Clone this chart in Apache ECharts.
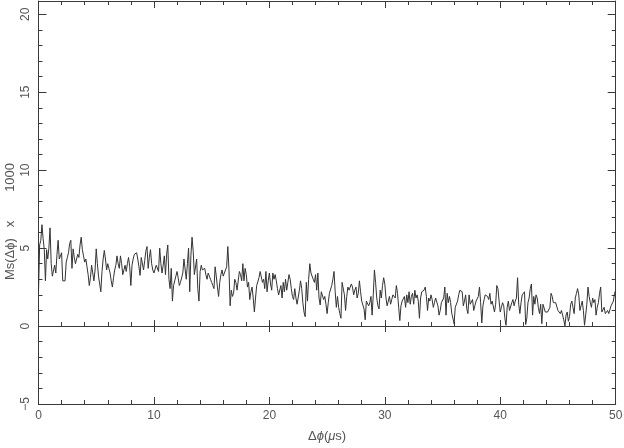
<!DOCTYPE html>
<html><head><meta charset="utf-8">
<script src="https://cdn.jsdelivr.net/npm/echarts@6/dist/echarts.min.js"></script>
<style>html,body{margin:0;padding:0;background:#fff}#c{width:624px;height:448px}</style>
</head><body><div id="c"></div><script>
// x step of the sampled curve (Δϕ in μs)
const xStep = 0.1;
// Ms(Δϕ) x 1000, in consecutive x ranges
const ms_0_79 = [2.2,5.2,5.5,6.5,5.6,4.9,2.9,4.9,4.3,5.0,
6.3,4.0,3.2,3.3,3.9,3.4,4.6,5.5,4.3,4.5,
4.7,2.9,2.8,2.9,4.1,4.4,4.7,5.3,5.5,3.7,
4.95,4.4,4.0,3.9,4.6,4.4,5.2,5.7,4.9,4.5,
4.1,4.3,3.8,3.3,2.6,3.1,3.9,3.4,2.9,3.6,
4.95,4.0,3.2,2.7,2.2,3.5,4.3,4.85,4.3,3.6,
4.0,3.7,3.4,2.9,2.5,3.1,3.6,3.9,4.5,4.0,
3.7,4.5,4.0,3.3,3.6,3.9,3.5,4.0,4.4,3.8];
const ms_8_161 = [2.6,3.9,4.3,4.6,4.5,4.7,4.3,3.8,3.25,4.4,
4.5,3.6,4.2,4.8,5.1,3.7,4.4,4.9,4.0,3.6,
3.4,3.3,3.9,3.8,3.5,5.0,4.0,3.4,3.9,4.5,
3.3,4.6,5.2,3.0,2.4,3.7,1.6,2.6,2.9,3.2,
3.5,3.1,2.6,2.8,2.7,3.4,4.3,4.4,3.0,4.0,
5.0,2.2,4.5,5.7,4.8,3.3,3.2,4.3,2.4,1.6,
3.5,3.9,3.6,3.6,3.7,3.3,3.0,3.4,3.2,3.0,
2.8,2.6,2.4,3.8,3.2,2.5,1.9,2.8,3.3,3.6,
3.2,3.4];
const ms_162_243 = [3.6,3.8,5.1,3.6,1.3,2.3,1.9,2.1,
3.0,2.8,2.3,2.2,3.5,3.3,2.9,4.0,2.9,3.7,
3.3,2.5,2.8,1.7,2.2,2.5,1.8,0.9,1.8,2.6,
2.7,3.1,3.5,3.4,2.8,3.0,2.4,3.5,2.2,2.9,
3.4,2.7,2.3,3.4,3.0,3.3,2.9,2.4,2.0,1.9,
2.6,1.8,2.8,2.2,3.0,2.3,2.2,3.3,3.0,2.4,
1.9,1.7,2.4,1.8,1.4,1.5,2.3,2.9,2.4,1.5,
0.9,0.6,2.8,1.6,3.0,4.0,3.4,3.5,3.0,2.8,
3.3,2.3,3.4,1.8];
const ms_244_326 = [1.35,2.2,2.3,1.7,1.9,1.4,
0.8,1.5,2.1,2.0,2.6,3.0,3.5,2.2,1.2,1.9,
1.2,0.8,0.5,2.8,2.9,2.0,1.0,1.9,2.5,2.3,
2.4,2.7,2.5,2.0,2.3,2.5,1.8,2.1,2.9,2.2,
1.6,1.6,1.1,0.4,1.6,1.6,1.3,1.5,1.9,0.7,
2.0,3.6,2.8,1.8,1.3,1.1,2.3,1.8,2.6,3.1,
2.7,1.8,1.3,1.6,1.9,1.4,1.7,2.0,2.1,1.8,
2.6,2.1,1.2,0.35,1.3,1.6,1.7,1.9,1.2,2.0,
1.5,2.2,1.4,1.9,2.1,1.4,2.3];
const ms_327_408 = [1.8,2.0,1.6,
0.5,1.8,2.2,2.1,2.3,2.5,1.9,1.0,1.8,1.6,
2.0,1.7,1.2,1.5,1.8,1.7,1.3,0.7,1.0,1.5,
1.4,1.8,2.5,0.7,2.1,1.5,1.9,1.5,0.8,0.5,
0.15,1.2,1.3,1.6,2.0,2.3,2.4,2.2,1.3,1.6,
2.0,1.1,0.8,2.0,1.4,1.5,1.7,1.0,1.3,1.6,
1.6,1.9,2.5,1.5,0.2,1.3,1.7,2.0,2.1,1.9,
1.7,2.1,1.4,1.6,1.7,0.9,1.4,2.6,2.4,1.6,
0.9,1.2,1.5,1.3,0.5,0.05,1.2,1.6,1.0];
const ms_409_500 = [1.1,
1.5,1.7,1.3,1.6,1.8,3.1,1.4,0.8,1.5,2.0,
2.1,2.2,0.1,0.5,1.5,1.8,2.4,2.7,0.7,1.9,
1.4,2.0,1.8,1.2,0.8,1.4,0.15,1.4,1.3,0.9,
0.8,0.9,1.0,1.2,2.1,1.9,1.5,1.5,1.5,1.4,
1.0,1.1,0.8,1.0,0.7,0.4,0.0,0.7,0.9,0.3,
0.6,1.4,1.6,1.2,0.8,1.8,2.1,2.4,2.0,1.0,
1.3,1.6,1.0,0.05,0.7,1.4,2.5,1.9,1.5,1.2,
1.8,1.5,1.7,0.7,1.2,1.5,2.1,2.5,0.9,0.8,
1.2,0.8,0.9,1.0,0.8,0.9,1.3,1.4,1.6,2.1,
2.3];
// axis ranges
const xRange = [0, 50];
const yRange = [-5, 20.85];

const msAll = [].concat(ms_0_79, ms_8_161, ms_162_243, ms_244_326, ms_327_408, ms_409_500);
const lineData = msAll.map((v, i) => [Math.round(i * xStep * 10) / 10, v]);

const ink = '#3a3a3a';
const txt = '#555';
const font = 'Liberation Sans';

function xAx(opt) {
  return Object.assign({
    type: 'value', min: xRange[0], max: xRange[1], splitLine: {show: false},
    axisLabel: {show: false}, axisLine: {show: false, onZero: false, lineStyle: {color: ink, width: 1}},
    axisTick: {show: true, inside: true, length: 4, lineStyle: {color: ink, width: 1}}
  }, opt);
}
function yAx(opt) {
  return Object.assign({
    type: 'value', min: yRange[0], max: yRange[1], splitLine: {show: false},
    axisLabel: {show: false}, axisLine: {show: false, onZero: false, lineStyle: {color: ink, width: 1}},
    axisTick: {show: true, inside: true, length: 4, lineStyle: {color: ink, width: 1}}
  }, opt);
}

const chart = echarts.init(document.getElementById('c'), null, {renderer: 'canvas'});
chart.setOption({
  animation: false,
  backgroundColor: '#fff',
  grid: {left: 38.5, right: 8.3, top: 1, bottom: 44, containLabel: false, outerBoundsMode: 'none'},
  xAxis: [
    xAx({position: 'bottom', interval: 10,
      axisLine: {show: true, onZero: false, lineStyle: {color: ink, width: 1}},
      axisTick: {show: true, inside: true, length: 7, lineStyle: {color: ink}},
      axisLabel: {show: true, margin: 6, color: txt, fontFamily: font, fontSize: 12},
      name: 'Δ{i|ϕ}({i|μ}s)', nameLocation: 'middle', nameGap: 26, nameMoveOverlap: false,
      nameTextStyle: {color: txt, fontFamily: font, fontSize: 13,
        rich: {i: {fontStyle: 'italic', color: txt, fontFamily: font, fontSize: 13}}}
    }),
    xAx({position: 'bottom', interval: 2}),
    xAx({position: 'top', interval: 10,
      axisLine: {show: true, onZero: false, lineStyle: {color: ink, width: 1}},
      axisTick: {show: true, inside: true, length: 7, lineStyle: {color: ink}}}),
    xAx({position: 'top', interval: 2}),
    xAx({position: 'bottom', interval: 2,
      axisLine: {show: true, onZero: true, onZeroAxisIndex: 0, lineStyle: {color: ink, width: 1}}}),
    xAx({position: 'bottom', interval: 10,
      axisLine: {show: false, onZero: true, onZeroAxisIndex: 0},
      axisTick: {show: true, inside: true, length: 6, lineStyle: {color: ink}}}),
    xAx({position: 'bottom', interval: 10,
      axisLine: {show: false, onZero: true, onZeroAxisIndex: 0},
      axisTick: {show: true, inside: false, length: 6, lineStyle: {color: ink}}})
  ],
  yAxis: [
    yAx({position: 'left', interval: 5,
      axisLine: {show: true, onZero: false, lineStyle: {color: ink, width: 1}},
      axisTick: {show: true, inside: true, length: 8, lineStyle: {color: ink}},
      axisLabel: {show: true, rotate: 90, margin: 7, color: txt, fontFamily: font, fontSize: 12,
        showMaxLabel: false,
        formatter: v => v < 0 ? '\u2212' + (-v) : String(v)},
      name: 'Ms(Δϕ)   x        1000', nameLocation: 'middle', nameGap: 22, nameRotate: 90,
      nameMoveOverlap: false,
      nameTextStyle: {color: txt, fontFamily: font, fontSize: 13, padding: [0, 38, 0, 0]}
    }),
    yAx({position: 'left', interval: 1}),
    yAx({position: 'right', interval: 5,
      axisLine: {show: true, onZero: false, lineStyle: {color: ink, width: 1}},
      axisTick: {show: true, inside: true, length: 8, lineStyle: {color: ink}}}),
    yAx({position: 'right', interval: 1})
  ],
  series: [{
    type: 'line', xAxisIndex: 0, yAxisIndex: 0, data: lineData,
    showSymbol: false, symbol: 'none', silent: true,
    lineStyle: {color: '#333', width: 1}
  }]
});
</script></body></html>
